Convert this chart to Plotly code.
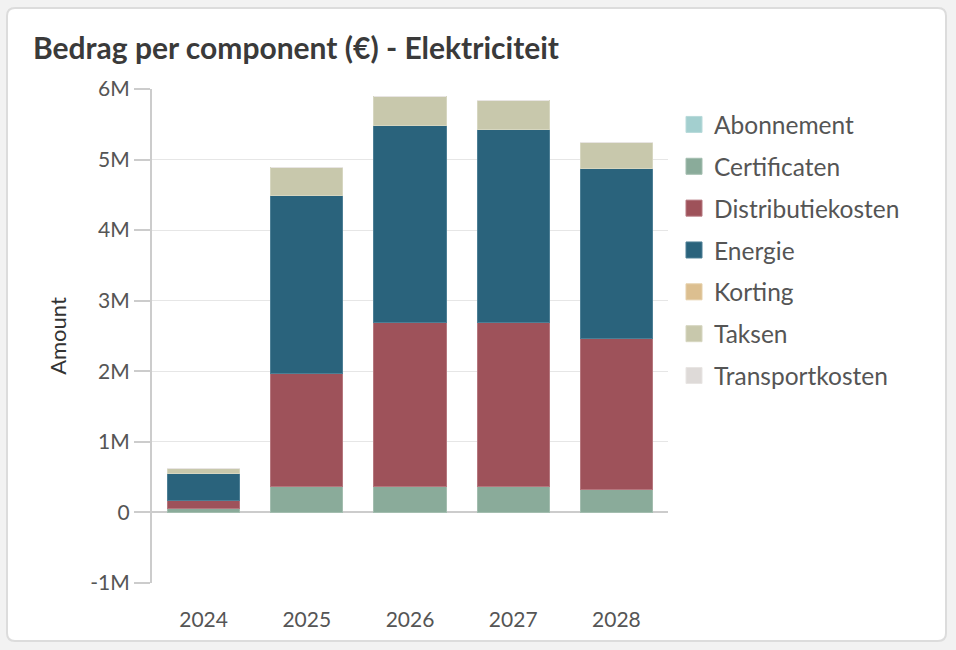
import plotly.graph_objects as go

years = ["2024", "2025", "2026", "2027", "2028"]
components = ["Abonnement", "Certificaten", "Distributiekosten", "Energie", "Korting", "Taksen", "Transportkosten"]
abonnement = [0, 0, 0, 0, 0]
certificaten = [50000, 365000, 365000, 365000, 330000]
distributiekosten = [115000, 1610000, 2320000, 2320000, 2140000]
energie = [390000, 2515000, 2800000, 2740000, 2400000]
korting = [0, 0, 0, 0, 0]
taksen = [65000, 395000, 410000, 410000, 370000]
transportkosten = [0, 0, 0, 0, 0]
colors = ["#a3cfcf", "#8aab9a", "#9e525a", "#2a637c", "#dcbf90", "#c8c8ac", "#dedad8"]
line_colors = ["#b8dada", "#a3bdaf", "#b5777e", "#4d7f95", "#e5cfa9", "#d6d6c0", "#e8e5e3"]
tick_vals = [-1000000, 0, 1000000, 2000000, 3000000, 4000000, 5000000, 6000000]
tick_text = ["-1M", "0", "1M", "2M", "3M", "4M", "5M", "6M"]

series = [abonnement, certificaten, distributiekosten, energie, korting, taksen, transportkosten]
FONT = "Lato"

fig = go.Figure()
for name, vals, c, lc in zip(components, series, colors, line_colors):
    fig.add_trace(go.Bar(x=years, y=vals, name=name, marker=dict(color=c, line=dict(color=lc, width=1)),
                         showlegend=False))
for name, c, lc in zip(components, colors, line_colors):
    fig.add_trace(go.Scatter(x=[None], y=[None], mode="markers", name=name, legendgroup=name,
                             marker=dict(symbol="square", size=20, color=c, line=dict(color=lc, width=1))))

W, H = 956, 650
L, R, T, B = 152, 668, 89, 583
fig.update_layout(
    width=W, height=H,
    barmode="stack", bargap=0.3,
    paper_bgcolor="#f2f2f2", plot_bgcolor="rgba(0,0,0,0)",
    margin=dict(l=L, r=W - R, t=T, b=H - B, autoexpand=False),
    font=dict(family=FONT, color="#555555", size=21),
    title=dict(text="<b>Bedrag per component (€) - Elektriciteit</b>", x=33 / W, xanchor="left",
               xref="container", y=1 - 48 / H, yref="container", yanchor="middle",
               font=dict(family=FONT, size=30, color="#3a3a3a")),
    legend=dict(x=(674 - L) / (R - L), xanchor="left", y=1 - (102 - T) / (B - T), yanchor="top",
                font=dict(size=24.5, color="#555555"), tracegroupgap=7, itemsizing="trace",
                bgcolor="rgba(0,0,0,0)"),
    showlegend=True,
)

# card background (rounded rectangle in pixel-derived paper coords)
def px(x):
    return (x - L) / (R - L)
def py(y):
    return (B - y) / (B - T)
x0, x1, y0, y1, r = 7, 946, 8, 641, 8
rx = r / (R - L)
ry = r / (B - T)
path = (f"M {px(x0)+rx},{py(y0)} L {px(x1)-rx},{py(y0)} Q {px(x1)},{py(y0)} {px(x1)},{py(y0)-ry} "
        f"L {px(x1)},{py(y1)+ry} Q {px(x1)},{py(y1)} {px(x1)-rx},{py(y1)} "
        f"L {px(x0)+rx},{py(y1)} Q {px(x0)},{py(y1)} {px(x0)},{py(y1)+ry} "
        f"L {px(x0)},{py(y0)-ry} Q {px(x0)},{py(y0)} {px(x0)+rx},{py(y0)} Z")
fig.layout.shapes = [dict(type="path", xref="paper", yref="paper", layer="below", path=path,
                          fillcolor="white", line=dict(color="#dcdcdc", width=2))]

fig.update_yaxes(range=[-1000000, 6000000], tickvals=tick_vals, ticktext=tick_text,
                 showgrid=True, gridcolor="#e6e6e6", gridwidth=1,
                 showline=True, linecolor="#cccccc", linewidth=2,
                 ticks="outside", ticklen=16, tickcolor="#cccccc", tickwidth=2,
                 zeroline=True, zerolinecolor="#cccccc", zerolinewidth=2,
                 title=dict(text="Amount", standoff=18, font=dict(size=22, color="#333333")),
                 tickfont=dict(size=21, color="#555555"))
fig.update_xaxes(showgrid=False, showline=False, ticks="", ticklabelstandoff=22,
                 tickfont=dict(size=21, color="#555555"))

fig.write_html("out.html", config={"displayModeBar": False},
               post_script="document.body.style.margin='0';document.body.style.overflow='hidden';")
